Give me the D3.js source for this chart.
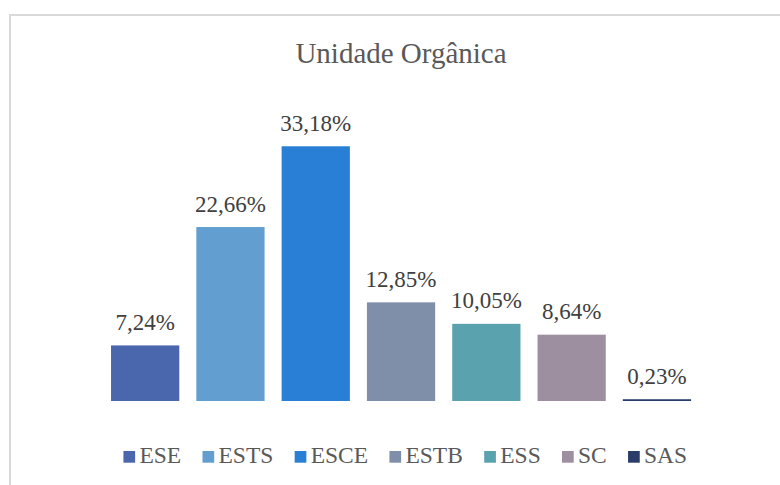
<!DOCTYPE html>
<html>
<head>
<meta charset="utf-8">
<script src="https://cdn.jsdelivr.net/npm/d3@7"></script>
<style>
  body { margin: 0; background: #fff; }
</style>
</head>
<body>
<div id="chart"></div>
<script>
var categories = ["ESE", "ESTS", "ESCE", "ESTB", "ESS", "SC", "SAS"]
var values = [7.24, 22.66, 33.18, 12.85, 10.05, 8.64, 0.23]
var colors = ["#4a66ac", "#629fd0", "#297fd5", "#7f8fa9", "#5aa2ae", "#9e8fa0", "#2a3d6a"]
var title = "Unidade Orgânica"

var width = 780, height = 485
var serif = "'Liberation Serif', 'Times New Roman', Tinos, Times"

function draw() {
    var svg = d3.select("#chart")
        .append("svg")
        .attr("width", width)
        .attr("height", height)

    // chart border (runs off the right and bottom edges)
    svg.append("rect")
        .attr("x", 10)
        .attr("y", 15)
        .attr("width", 800)
        .attr("height", 500)
        .attr("fill", "none")
        .attr("stroke", "#d9d9d9")
        .attr("stroke-width", 2)

    svg.append("text")
        .attr("x", 401)
        .attr("y", 63)
        .attr("text-anchor", "middle")
        .style("font-family", serif)
        .style("font-size", "29px")
        .attr("fill", "#595959")
        .text(title)

    // scales
    const x = d3.scaleBand()
        .domain(categories)
        .range([102.5, 699.6])
        .paddingInner(0.2)
        .paddingOuter(0.1)

    const y = d3.scaleLinear()
        .domain([0, 35])
        .range([401, 132.3])

    const fmt = d => d3.format(".2f")(d).replace(".", ",") + "%"

    svg.selectAll(".bar")
        .data(values)
        .enter().append("rect")
        .attr("class", "bar")
        .attr("x", (d, i) => x(categories[i]))
        .attr("y", d => y(d))
        .attr("width", x.bandwidth())
        .attr("height", d => y(0) - y(d))
        .attr("fill", (d, i) => colors[i])

    svg.selectAll(".label")
        .data(values)
        .enter().append("text")
        .attr("class", "label")
        .attr("x", (d, i) => x(categories[i]) + x.bandwidth() / 2)
        .attr("y", d => y(d) - 15.5)
        .attr("text-anchor", "middle")
        .style("font-family", serif)
        .style("font-size", "23px")
        .attr("fill", "#404040")
        .text(fmt)

    // legend
    var legend = svg.append("g")
    var lx = 0
    var gap = 21.3
    categories.forEach(function (c, i) {
        var g = legend.append("g").attr("transform", "translate(" + lx + ",0)")
        g.append("rect")
            .attr("x", 0)
            .attr("y", -12)
            .attr("width", 11.7)
            .attr("height", 11.7)
            .attr("fill", colors[i])
        var t = g.append("text")
            .attr("x", 16)
            .attr("y", 0)
            .style("font-family", serif)
            .style("font-size", "23.5px")
            .attr("fill", "#595959")
            .text(c)
        lx += 16 + t.node().getComputedTextLength() + gap
    })
    var lw = lx - gap
    legend.attr("transform", "translate(" + (405.3 - lw / 2) + ",463)")
}

if (document.fonts && document.fonts.load) {
    document.fonts.load("23px 'Liberation Serif'").then(draw, draw)
} else {
    draw()
}
</script>
</body>
</html>
